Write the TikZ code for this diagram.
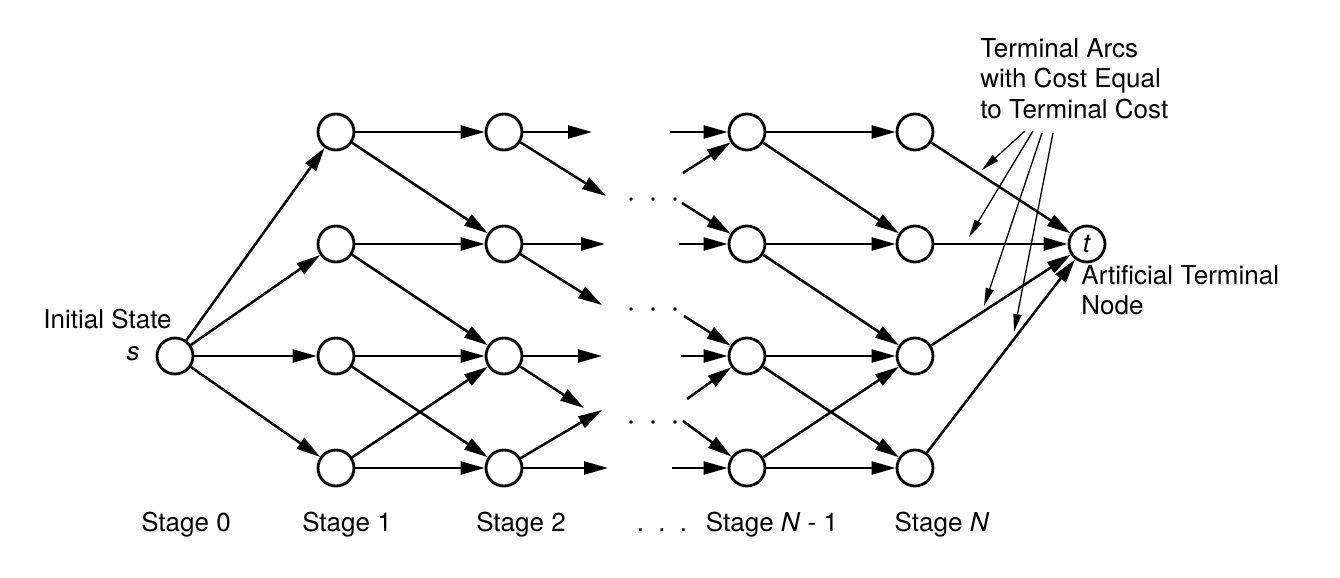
\documentclass[tikz,border=0pt]{standalone}
\usepackage{fontspec}
\setmainfont{TeX Gyre Heros}
\usetikzlibrary{arrows.meta}
\begin{document}
\begin{tikzpicture}[x=0.5pt,y=-0.5pt,
  st/.style={circle,draw,line width=1.4pt,fill=white,minimum size=18pt,inner sep=0pt,font=\fontsize{13}{15}\selectfont},
  arc/.style={line width=1.25pt,-{Triangle[length=12pt,width=6.5pt]}},
  note/.style={line width=0.65pt,-{Triangle[length=9pt,width=4pt]}},
  lbl/.style={font=\fontsize{13}{15.25}\selectfont,inner sep=0pt},
  dotm/.style={fill=black}]
\useasboundingbox (0,0) rectangle (1340,578);

% nodes
\node[st] (s) at (175,356) {};
\foreach \i/\y in {1/132,2/244,3/356,4/468}{
  \node[st] (a\i) at (336,\y) {};
  \node[st] (b\i) at (504,\y) {};
  \node[st] (c\i) at (747,\y) {};
  \node[st] (d\i) at (915,\y) {};
}
\node[st] (t) at (1087,244) {\textit{t}};

% stage 0 -> 1
\foreach \i in {1,2,3,4}{\draw[arc] (s) -- (a\i);}
% stage 1 -> 2
\draw[arc] (a1) -- (b1); \draw[arc] (a1) -- (b2);
\draw[arc] (a2) -- (b2); \draw[arc] (a2) -- (b3);
\draw[arc] (a3) -- (b3); \draw[arc] (a3) -- (b4);
\draw[arc] (a4) -- (b3); \draw[arc] (a4) -- (b4);
% stage N-1 -> N
\draw[arc] (c1) -- (d1); \draw[arc] (c1) -- (d2);
\draw[arc] (c2) -- (d2); \draw[arc] (c2) -- (d3);
\draw[arc] (c3) -- (d3); \draw[arc] (c3) -- (d4);
\draw[arc] (c4) -- (d3); \draw[arc] (c4) -- (d4);
% terminal arcs
\foreach \i in {1,2,3,4}{\draw[arc] (d\i) -- (t);}

% outgoing stubs from stage 2
\coordinate (o1) at (592,132); \coordinate (o2) at (606,196);
\coordinate (o3) at (605,244); \coordinate (o4) at (602,305);
\coordinate (o5) at (602,356); \coordinate (o6) at (584,408);
\coordinate (o7) at (602,410); \coordinate (o8) at (608,468);
\draw[arc] (b1) -- (o1); \draw[arc] (b1) -- (o2);
\draw[arc] (b2) -- (o3); \draw[arc] (b2) -- (o4);
\draw[arc] (b3) -- (o5); \draw[arc] (b3) -- (o6);
\draw[arc] (b4) -- (o7); \draw[arc] (b4) -- (o8);

% incoming stubs to stage N-1
\coordinate (i1) at (670,132); \coordinate (i2) at (683,173);
\coordinate (i3) at (682,203); \coordinate (i4) at (679,244);
\coordinate (i5) at (684,316); \coordinate (i6) at (681,356); \coordinate (i7) at (687,399);
\coordinate (i8) at (683,421); \coordinate (i9) at (672,468);
\draw[arc] (i1) -- (c1); \draw[arc] (i2) -- (c1);
\draw[arc] (i3) -- (c2); \draw[arc] (i4) -- (c2);
\draw[arc] (i5) -- (c3); \draw[arc] (i6) -- (c3); \draw[arc] (i7) -- (c3);
\draw[arc] (i8) -- (c4); \draw[arc] (i9) -- (c4);

% dots
\foreach \y in {199,309,422}{
  \foreach \x in {631,653,675}{\fill[dotm] (\x,\y) circle[radius=1.8];}
}

% labels
\node[lbl,anchor=base east] (init) at (172,328) {Initial State};
\node[lbl,anchor=base] (slbl) at (133,360) {\textit{s}};
\node[lbl,anchor=base] (st0) at (186,531) {Stage 0};
\node[lbl,anchor=base] (st1) at (347,531) {Stage 1};
\node[lbl,anchor=base] (st2) at (521,531) {Stage 2};
\node[lbl,anchor=base] (stdots) at (662,531) {.\hskip0.55em.\hskip0.55em.};
\node[lbl,anchor=base] (stn1) at (772,531) {Stage \textit{N} - 1};
\node[lbl,anchor=base] (stn) at (942,531) {Stage \textit{N}};

\node[lbl,anchor=north west,align=left] (tarcs) at (980,38) {Terminal Arcs\\with Cost Equal\\to Terminal Cost};
\node[lbl,anchor=north west,align=left] (atn) at (1081,265) {Artificial Terminal\\Node};

% annotation arrows
\coordinate (n1) at (1025,131); \coordinate (e1) at (982,170);
\coordinate (n2) at (1033,131); \coordinate (e2) at (969,237);
\coordinate (n3) at (1042,133); \coordinate (e3) at (984,306);
\coordinate (n4) at (1053,133); \coordinate (e4) at (1014,332);
\draw[note] (n1) -- (e1);
\draw[note] (n2) -- (e2);
\draw[note] (n3) -- (e3);
\draw[note] (n4) -- (e4);
\end{tikzpicture}
\end{document}
